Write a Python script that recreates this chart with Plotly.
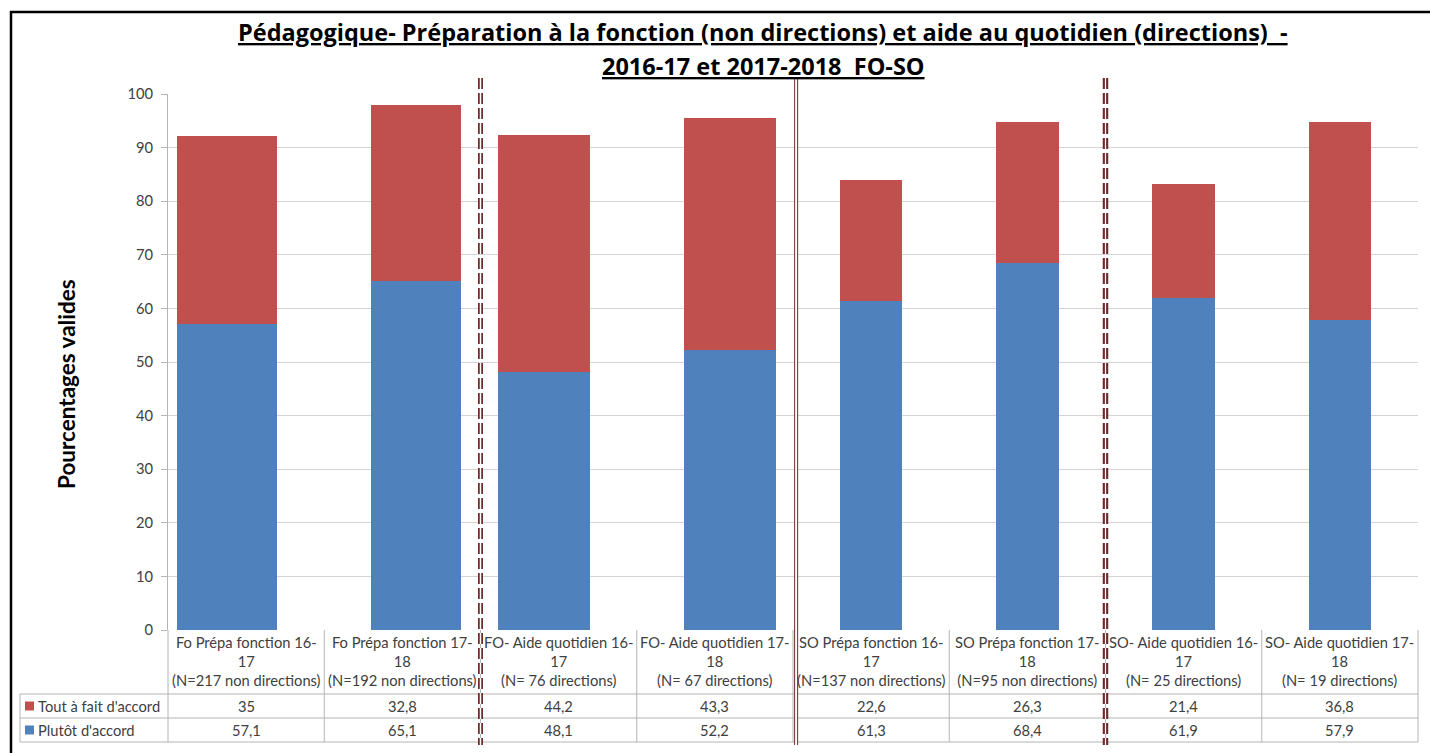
import plotly.graph_objects as go

# ---- data -------------------------------------------------------------
categories = [
    "Fo Prépa fonction 16-<br>17<br>(N=217 non directions)",
    "Fo Prépa fonction 17-<br>18<br>(N=192 non directions)",
    "FO- Aide quotidien 16-<br>17<br>(N= 76 directions)",
    "FO- Aide quotidien 17-<br>18<br>(N= 67 directions)",
    "SO Prépa fonction 16-<br>17<br>(N=137 non directions)",
    "SO Prépa fonction 17-<br>18<br>(N=95 non directions)",
    "SO- Aide quotidien 16-<br>17<br>(N= 25 directions)",
    "SO- Aide quotidien 17-<br>18<br>(N= 19 directions)",
]
tout_a_fait = [35, 32.8, 44.2, 43.3, 22.6, 26.3, 21.4, 36.8]
plutot = [57.1, 65.1, 48.1, 52.2, 61.3, 68.4, 61.9, 57.9]
series_names = ["Tout à fait d'accord", "Plutôt d'accord"]
y_ticks = list(range(0, 101, 10))
title_lines = [
    "Pédagogique- Préparation à la fonction (non directions) et aide au quotidien (directions)  -",
    "2016-17 et 2017-2018  FO-SO",
]
y_title = "Pourcentages valides"

# ---- styling ----------------------------------------------------------
BLUE = "#4f81bd"
RED = "#c0504d"
GRID = "#d4d4d4"
TABLE_LINE = "#b4b4b4"
TEXT = "#404040"
SEP = "#6e2b2b"
FONT = "Lato"
TITLE_FONT = "Open Sans"
SMALL = 14.7

W, H = 1430, 753
L, R, T, B = 168, 12, 94, 123
PW, PH = W - L - R, H - T - B

# per-bar widths / offsets in category units
bar_width = [0.64, 0.576, 0.589, 0.589, 0.40, 0.40, 0.40, 0.40]
bar_offset = [-0.442, -0.20, -0.391, -0.20, -0.20, -0.20, -0.20, -0.20]

idx = list(range(len(categories)))


def py(pix):
    """pixel row -> paper y"""
    return (H - B - pix) / PH


def px(pix):
    """pixel column -> paper x"""
    return (pix - L) / PW


def fmt(v):
    return f"{v:g}".replace(".", ",")


fig = go.Figure()
fig.add_bar(x=idx, y=plutot, name=series_names[1], marker_color=BLUE,
            marker_line_width=0, width=bar_width, offset=bar_offset)
fig.add_bar(x=idx, y=tout_a_fait, name=series_names[0], marker_color=RED,
            marker_line_width=0, width=bar_width, offset=bar_offset)

shapes = []
annotations = []

# outer chart frame
shapes.append(dict(type="rect", xref="paper", yref="paper",
                   x0=px(11), x1=px(1480), y0=py(12), y1=py(800),
                   line=dict(color="black", width=2.5), layer="above"))

# data table: horizontal rules
for yy in [694, 718, 742]:
    shapes.append(dict(type="line", xref="paper", yref="paper",
                       x0=px(20), x1=1, y0=py(yy), y1=py(yy),
                       line=dict(color=TABLE_LINE, width=1)))
# data table: vertical rules
shapes.append(dict(type="line", xref="paper", yref="paper",
                   x0=px(20), x1=px(20), y0=py(694), y1=py(742),
                   line=dict(color=TABLE_LINE, width=1)))
for k in range(len(categories) + 1):
    xx = k / len(categories)
    shapes.append(dict(type="line", xref="paper", yref="paper",
                       x0=xx, x1=xx, y0=0, y1=py(742),
                       line=dict(color=TABLE_LINE, width=1)))

# category headers and table values
for i, c in enumerate(categories):
    annotations.append(dict(x=i, y=py(631), xref="x", yref="paper",
                            text=c, showarrow=False, yanchor="top",
                            xanchor="center", align="center",
                            font=dict(family=FONT, size=SMALL, color=TEXT)))
    annotations.append(dict(x=i, y=py(706), xref="x", yref="paper",
                            text=fmt(tout_a_fait[i]), showarrow=False,
                            yanchor="middle", xanchor="center",
                            font=dict(family=FONT, size=SMALL, color=TEXT)))
    annotations.append(dict(x=i, y=py(730), xref="x", yref="paper",
                            text=fmt(plutot[i]), showarrow=False,
                            yanchor="middle", xanchor="center",
                            font=dict(family=FONT, size=SMALL, color=TEXT)))

# legend keys inside the table
for name, color, yc in [(series_names[0], RED, 706), (series_names[1], BLUE, 730)]:
    shapes.append(dict(type="rect", xref="paper", yref="paper",
                       x0=px(25), x1=px(34), y0=py(yc - 4.5), y1=py(yc + 4.5),
                       fillcolor=color, line=dict(width=0)))
    annotations.append(dict(x=px(36), y=py(yc), xref="paper", yref="paper",
                            text=name, showarrow=False, xanchor="left",
                            yanchor="middle",
                            font=dict(family=FONT, size=SMALL, color=TEXT)))

# group separators (double lines)
for xs, dash, outer, inner in [(1.5, "11px,4px", 5, 1.5),
                               (3.52, "solid", 4, 2),
                               (5.5, "11px,4px", 5.5, 1.2)]:
    for w, col in [(outer, SEP), (inner, "white")]:
        shapes.append(dict(type="line", xref="x", yref="paper",
                           x0=xs, x1=xs, y0=py(78), y1=py(745),
                           line=dict(color=col, width=w, dash=dash),
                           layer="above"))

# title, two lines
for line, yc in zip(title_lines, [32, 66]):
    annotations.append(dict(
        x=px(763), y=py(yc), xref="paper", yref="paper", showarrow=False,
        xanchor="center", yanchor="middle",
        text=f"<b><u>{line}</u></b>",
        font=dict(family=TITLE_FONT, size=23.5, color="black")))

# vertical axis title
annotations.append(dict(
    x=px(66), y=py(384), xref="paper", yref="paper", showarrow=False,
    xanchor="center", yanchor="middle", textangle=-90,
    text=f"<b>{y_title}</b>",
    font=dict(family=FONT, size=22.5, color="black")))

fig.update_layout(
    width=W, height=H,
    margin=dict(l=L, r=R, t=T, b=B, pad=0),
    barmode="stack",
    bargap=0,
    showlegend=False,
    plot_bgcolor="white",
    paper_bgcolor="white",
    shapes=shapes,
    annotations=annotations,
    hovermode=False,
    xaxis=dict(range=[-0.5, len(categories) - 0.5], showticklabels=False,
               showgrid=False, zeroline=False, showline=False, ticks=""),
    yaxis=dict(range=[0, 100], tickvals=y_ticks, showgrid=True,
               gridcolor=GRID, gridwidth=1, zeroline=False,
               showline=True, linecolor=TABLE_LINE, linewidth=1,
               ticks="outside", ticklen=6, tickcolor=TABLE_LINE,
               ticklabelstandoff=5,
               tickfont=dict(family=FONT, size=SMALL, color=TEXT)),
)

fig.write_html("out.html")
